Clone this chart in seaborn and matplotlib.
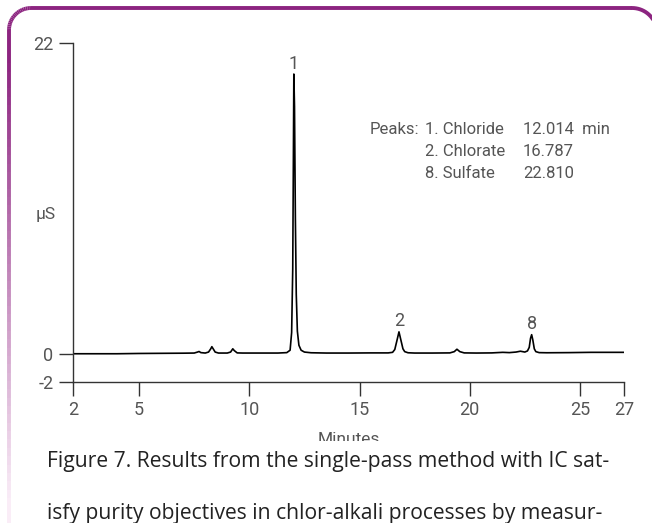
import numpy as np
import pandas as pd
import matplotlib.pyplot as plt
import seaborn as sns
from matplotlib.collections import LineCollection
from matplotlib.patches import Rectangle

# chromatogram trace (minutes, µS)
minutes = [2.0, 3.0, 4.0, 5.0, 6.0, 7.0, 7.5, 7.65, 7.72, 7.8, 8.0, 8.15, 8.25, 8.3, 8.36, 8.45,
           8.6, 9.0, 9.15, 9.25, 9.32, 9.45, 9.7, 10.5, 11.3, 11.7, 11.85, 11.92, 11.97, 12.0,
           12.02, 12.05, 12.09, 12.13, 12.18, 12.25, 12.35, 12.5, 12.8, 13.5, 14.5, 15.5, 16.3,
           16.5, 16.6, 16.7, 16.79, 16.88, 16.97, 17.05, 17.2, 17.5, 18.3, 19.1, 19.3, 19.42,
           19.55, 19.75, 20.3, 21.0, 21.5, 21.8, 22.1, 22.3, 22.5, 22.62, 22.7, 22.76, 22.81,
           22.86, 22.93, 23.0, 23.15, 23.5, 24.5, 25.5, 26.5, 27.0]
signal = [0.0, 0.0, 0.0, 0.02, 0.03, 0.04, 0.05, 0.12, 0.16, 0.08, 0.05, 0.12, 0.35, 0.5, 0.35, 0.12,
          0.05, 0.05, 0.12, 0.35, 0.22, 0.06, 0.05, 0.05, 0.05, 0.08, 0.25, 1.5, 6.0, 14.0,
          19.8, 17.5, 9.5, 4.2, 1.6, 0.6, 0.25, 0.12, 0.07, 0.05, 0.05, 0.06, 0.06,
          0.1, 0.3, 0.95, 1.55, 0.95, 0.35, 0.15, 0.07, 0.05, 0.05, 0.06, 0.15, 0.32,
          0.15, 0.06, 0.05, 0.06, 0.1, 0.08, 0.12, 0.18, 0.12, 0.2, 0.45, 1.1, 1.35,
          1.0, 0.35, 0.15, 0.08, 0.07, 0.08, 0.1, 0.1, 0.1]

peak_ids = ['1', '2', '8']
peak_times = [12.014, 16.787, 22.810]
peak_heights = [19.8, 1.55, 1.35]
peak_names = ['1. Chloride', '2. Chlorate', '8. Sulfate']
peak_rt = ['12.014  min', '16.787', '22.810']

x_ticks = [2, 5, 10, 15, 20, 25, 27]
y_ticks = [-2, 0, 22]

sns.set_style('white')
plt.rcParams['font.family'] = ['Roboto', 'DejaVu Sans']
plt.rcParams['axes.unicode_minus'] = False

fig = plt.figure(figsize=(6.52, 5.23), dpi=100)
ax = fig.add_axes([73 / 652, 1 - 382 / 523, (624 - 73) / 652, (382 - 43) / 523])

df = pd.DataFrame({'Minutes': minutes, 'uS': signal})
sns.lineplot(data=df, x='Minutes', y='uS', ax=ax, color='black', linewidth=1.2, sort=False)

ax.set_xlim(2, 27)
ax.set_ylim(-2, 22)
ax.set_xticks(x_ticks)
ax.set_yticks(y_ticks)
txt = '#555555'
ax.tick_params(axis='both', direction='out', length=10, width=1, color='#333333',
               labelsize=13, labelcolor=txt, pad=4, left=True, bottom=True)
for s in ['top', 'right']:
    ax.spines[s].set_visible(False)
for s in ['left', 'bottom']:
    ax.spines[s].set_color('#333333')
    ax.spines[s].set_linewidth(1)
ax.set_xlabel('')
ax.set_ylabel('')

fig.text(46 / 652, 1 - 215 / 523, 'µS', ha='center', va='center', fontsize=12.5, color=txt)
fig.text((73 + 624) / 2 / 652, 1 - 439 / 523, 'Minutes', ha='center', va='center',
         fontsize=12.5, color=txt, zorder=1)
# the screenshot cuts the axis title in half
fig.patches.append(Rectangle((0.03, 1 - 449 / 523), 0.94, 8 / 523, transform=fig.transFigure,
                             facecolor='white', edgecolor='none', zorder=2))

for pid, t, h in zip(peak_ids, peak_times, peak_heights):
    ax.annotate(pid, (t, h), xytext=(0, 1), textcoords='offset points', ha='center',
                va='bottom', fontsize=13, color=txt)

rows_y = [129, 151, 173]
fig.text(370 / 652, 1 - rows_y[0] / 523, 'Peaks:', va='center', fontsize=12, color=txt)
for ry, nm, rt in zip(rows_y, peak_names, peak_rt):
    fig.text(425 / 652, 1 - ry / 523, nm, va='center', fontsize=12, color=txt)
    fig.text(523 / 652, 1 - ry / 523, rt, va='center', fontsize=12, color=txt)

# caption of the figure, cut at the bottom of the screenshot
cap_font = ['Open Sans', 'DejaVu Sans']
fig.text(47 / 652, 1 - 462 / 523, 'Figure 7. Results from the single-pass method with IC sat-',
         va='center', fontsize=15.2, color='#222222', family=cap_font, zorder=4)
fig.text(47 / 652, 1 - 514 / 523, 'isfy purity objectives in chlor-alkali processes by measur-',
         va='center', fontsize=15.2, color='#222222', family=cap_font, zorder=4)

# rounded purple frame, left side fading out
purple = np.array([0.55, 0.14, 0.50])
r = 22
x0, y0 = 9, 8
arc = np.linspace(np.pi, np.pi / 2, 20)
corner = [(x0 + r + r * np.cos(a), y0 + r - r * np.sin(a)) for a in arc]
pts_l = np.array([(x0, yy) for yy in np.linspace(523, y0 + r, 60)] + corner + [(632, y0)])
segs = np.stack([pts_l[:-1], pts_l[1:]], axis=1)
segs_fig = segs.copy()
segs_fig[..., 0] = segs[..., 0] / 652
segs_fig[..., 1] = 1 - segs[..., 1] / 523
mid_y = segs[:, :, 1].mean(axis=1)
fade = np.clip((mid_y - 60) / 440, 0, 1)
cols = [tuple(purple * (1 - f) + np.array([0.98, 0.93, 0.97]) * f) for f in fade]
lc = LineCollection(segs_fig, colors=cols, linewidths=2.8, transform=fig.transFigure)
fig.add_artist(lc)
arc2 = np.linspace(np.pi / 2, 0, 20)
rc = [(632 + 25 * np.cos(a), y0 + 25 - 25 * np.sin(a)) for a in arc2]
rc = np.array([(632, y0)] + rc)
fig.add_artist(plt.Line2D(rc[:, 0] / 652, 1 - rc[:, 1] / 523, color=tuple(purple), lw=2.8,
                          transform=fig.transFigure))

fig.savefig('out.png', dpi=100)
